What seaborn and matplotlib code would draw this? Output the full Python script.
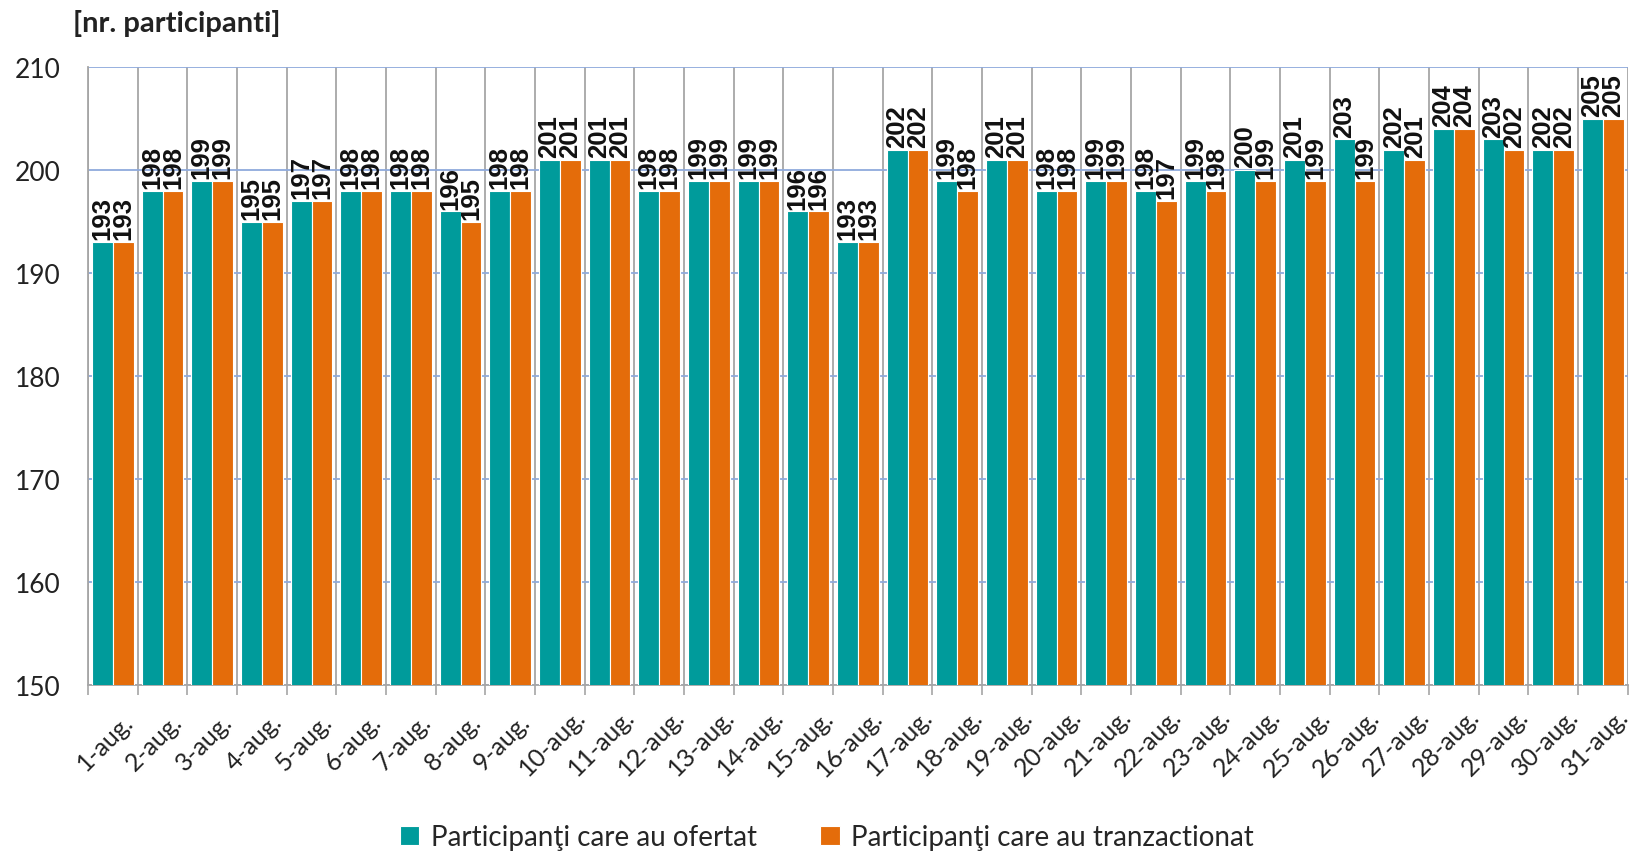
import numpy as np
import pandas as pd
import matplotlib.pyplot as plt
import seaborn as sns

# ── Data ──
days = [f"{d}-aug." for d in range(1, 32)]
ofertat = [193, 198, 199, 195, 197, 198, 198, 196, 198, 201,
           201, 198, 199, 199, 196, 193, 202, 199, 201, 198,
           199, 198, 199, 200, 201, 203, 202, 204, 203, 202, 205]
tranzactionat = [193, 198, 199, 195, 197, 198, 198, 195, 198, 201,
                 201, 198, 199, 199, 196, 193, 202, 198, 201, 198,
                 199, 197, 198, 199, 199, 199, 201, 204, 202, 202, 205]
series_names = ["Participanţi care au ofertat", "Participanţi care au tranzactionat"]
colors = ["#009B9B", "#E46C0A"]
y_ticks = [150, 160, 170, 180, 190, 200, 210]

df = pd.DataFrame({
    "zi": days * 2,
    "participanti": ofertat + tranzactionat,
    "serie": [series_names[0]] * len(days) + [series_names[1]] * len(days),
})

sns.set_style("white")
plt.rcParams['font.family'] = ['Lato', 'DejaVu Sans']

fig = plt.figure(figsize=(16.31, 8.54), dpi=100)
ax = fig.add_axes([0.054, 0.197, 0.944, 0.723])

sns.barplot(data=df, x="zi", y="participanti", hue="serie", palette=colors,
            width=0.84, saturation=1, edgecolor="white", linewidth=0.8,
            ax=ax, zorder=3)

# ── Value labels ──
for cont in ax.containers:
    ax.bar_label(cont, fmt="%d", rotation=90, padding=2, fontsize=18.5,
                 fontweight="bold", family=["Liberation Sans", "DejaVu Sans"],
                 color="#111111", clip_on=False, zorder=5)

# ── Axes styling ──
ax.set_ylim(150, 210)
ax.set_xlim(-0.5, len(days) - 0.5)
ax.set_yticks(y_ticks)
ax.set_yticklabels([str(t) for t in y_ticks], fontsize=19, color="#222222")
ax.set_xticks(range(len(days)))
# slanted day labels roughly centred under the category, as in the original
ax.set_xticklabels(days, rotation=45, ha="center", va="bottom", rotation_mode="anchor",
                   fontsize=18, color="#222222")
ax.set_xticks(np.arange(-0.5, len(days)), minor=True)

ax.set_axisbelow(True)
ax.grid(axis="y", which="major", color="#8FAADC", linewidth=1.3)
ax.grid(axis="x", which="minor", color="#A6A6A6", linewidth=1.3)
ax.grid(axis="x", which="major", visible=False)

ax.tick_params(axis="x", which="major", length=0, pad=47)
ax.tick_params(axis="x", which="minor", length=7, width=1.2, color="#A6A6A6", direction="out")
ax.tick_params(axis="y", length=12, width=1.2, color="#A6A6A6", direction="out", pad=8)
ax.xaxis.set_tick_params(which="minor", bottom=True)

for s in ["top", "right"]:
    ax.spines[s].set_visible(False)
for s in ["left", "bottom"]:
    ax.spines[s].set_color("#A6A6A6")
    ax.spines[s].set_linewidth(1.3)

ax.set_xlabel("")
ax.set_ylabel("")

fig.text(0.045, 0.972, "[nr. participanti]", fontsize=21, fontweight="bold",
         color="#222222", ha="left", va="center")

# ── Legend ──
handles, labels = ax.get_legend_handles_labels()
ax.get_legend().remove()
fig.legend(handles, labels, loc="lower center", bbox_to_anchor=(0.507, -0.026),
           ncol=2, frameon=False, fontsize=20, handlelength=0.7, handleheight=0.7,
           handletextpad=0.4, columnspacing=2.3)

fig.savefig("out.png", dpi=100)
